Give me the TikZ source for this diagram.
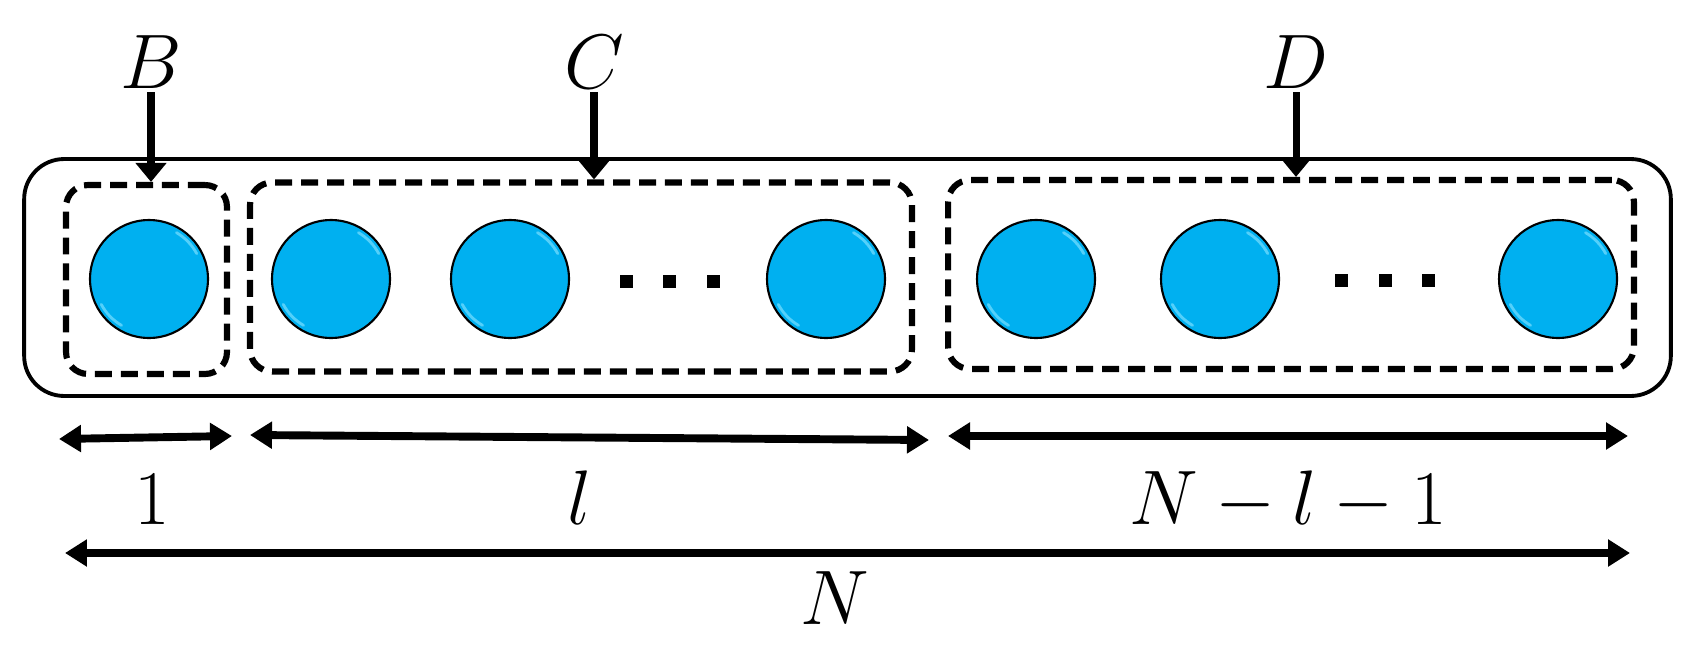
\RequirePackage{fix-cm}
\documentclass[tikz,border=0pt]{standalone}
\usetikzlibrary{arrows.meta,calc}
\definecolor{ballc}{RGB}{0,176,240}
\definecolor{ballhi}{RGB}{120,222,255}
\begin{document}
\begin{tikzpicture}[x=0.02cm,y=-0.02cm,
  outerbox/.style={draw, line width=2.2pt, rounded corners=0.8cm, minimum width=32.94cm, minimum height=4.74cm, inner sep=0},
  dbox/.style={draw, line width=3.5pt, dash pattern=on 0.34cm off 0.18cm, rounded corners=0.44cm, minimum height=3.78cm, inner sep=0},
  ball/.style={circle, draw, line width=1.2pt, fill=ballc, minimum size=2.36cm, inner sep=0},
  hi/.style={draw=ballhi, line width=1.6pt, line cap=round, opacity=0.7},
  sq/.style={rectangle, fill=black, minimum size=0.26cm, inner sep=0},
  lab/.style={font=\fontsize{44}{50}\selectfont, inner sep=0, anchor=base},
  darr/.style={line width=4.5pt, {Triangle[length=0.44cm,width=0.52cm]}-{Triangle[length=0.44cm,width=0.52cm]}},
  varr/.style={line width=4pt, -{Triangle[length=0.38cm,width=0.6cm]}, shorten <=0.08cm}]
\useasboundingbox (0,0) rectangle (1693,663);
% outer box
\node[outerbox] (outer) at (847.5,277.5) {};
% dashed groups
\node[dbox, minimum width=3.22cm] (bbox) at (146.5,279.5) {};
\node[dbox, minimum width=13.24cm] (cbox) at (581,277) {};
\node[dbox, minimum width=13.72cm] (dbx) at (1291,274.5) {};
% balls
\foreach \n/\x in {b1/149, c1/331, c2/510, c3/826, d1/1036, d2/1220, d3/1558}{
  \node[ball] (\n) at (\x,279) {};
  \draw[hi] ($(\n.center)!0.9!(\n.28)$) arc[start angle=28, end angle=60, radius=1.06cm];
  \draw[hi] ($(\n.center)!0.9!(\n.208)$) arc[start angle=208, end angle=240, radius=1.06cm];
}
% dots
\node[sq] (cd1) at (626,281) {};
\node[sq] (cd2) at (669,281) {};
\node[sq] (cd3) at (713,281) {};
\node[sq] (dd1) at (1341,280) {};
\node[sq] (dd2) at (1385,280) {};
\node[sq] (dd3) at (1428,280) {};
% top labels and arrows
\node[lab] (B) at (151,88) {$B$};
\node[lab] (C) at (594,88) {$C$};
\node[lab] (D) at (1296,88) {$D$};
\draw[varr] (B.south) -- (B.south |- bbox.north);
\draw[varr] (C.south) -- (C.south |- cbox.north);
\draw[varr] (D.south) -- (D.south |- dbx.north);
% dimension arrows
\coordinate (a1l) at (59,439);
\coordinate (a1r) at (232,436);
\coordinate (all) at (250,435);
\coordinate (alr) at (929,440);
\coordinate (adl) at (948,436);
\coordinate (adr) at (1628,436);
\coordinate (anl) at (65,553);
\coordinate (anr) at (1630,553);
\draw[darr] (a1l) -- (a1r);
\draw[darr] (all) -- (alr);
\draw[darr] (adl) -- (adr);
\draw[darr] (anl) -- (anr);
\node[lab] (one) at (152,524) {$1$};
\node[lab] (ell) at (580,524) {$l$};
\node[lab] (nl1) at (1288,524) {$N-l-1$};
\node[lab] (N) at (835,624) {$N$};
\end{tikzpicture}
\end{document}
